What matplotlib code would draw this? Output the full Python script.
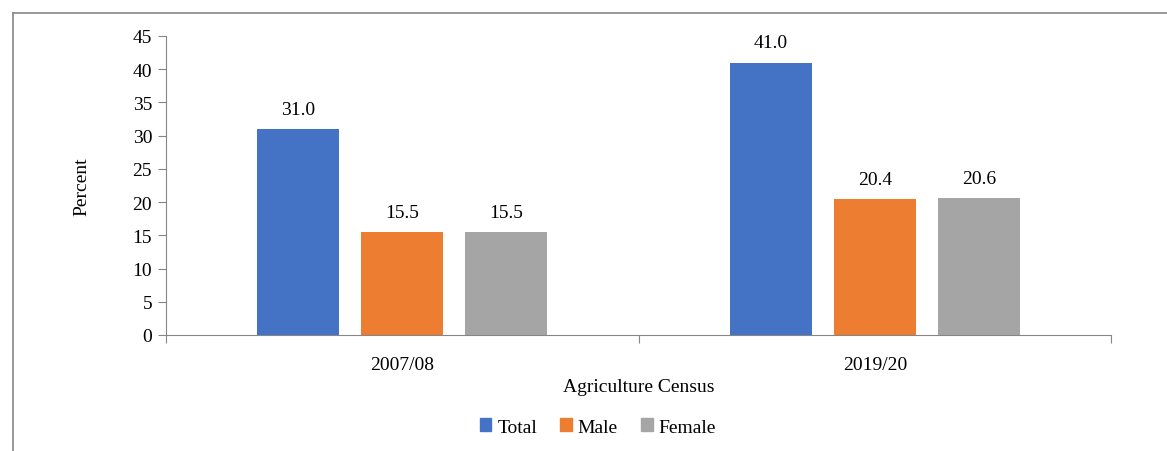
import numpy as np
import matplotlib
matplotlib.use("Agg")
import matplotlib.pyplot as plt
from matplotlib.lines import Line2D
from matplotlib.patches import Patch

plt.rcParams['font.family'] = ['Liberation Serif', 'DejaVu Serif']

censuses = ["2007/08", "2019/20"]
series_names = ["Total", "Male", "Female"]
total = [31.0, 41.0]
male = [15.5, 20.4]
female = [15.5, 20.6]
colors = ["#4472C4", "#ED7D31", "#A5A5A5"]

fig = plt.figure(figsize=(11.67, 4.52), dpi=100)
ax = fig.add_axes([166 / 1167, 1 - 336 / 452, (1111 - 166) / 1167, (336 - 37) / 452])

x = np.arange(len(censuses))
width = 0.174
offsets = [-0.22, 0.0, 0.22]
fs = 14

for vals, off, c in zip([total, male, female], offsets, colors):
    bars = ax.bar(x + off, vals, width, color=c)
    for b, v in zip(bars, vals):
        ax.annotate(f"{v:.1f}", (b.get_x() + b.get_width() / 2, v),
                    xytext=(0, 8), textcoords="offset points",
                    ha="center", va="bottom", fontsize=fs)

ax.set_xlim(-0.5, 1.5)
ax.set_ylim(0, 45)
ax.set_yticks(np.arange(0, 46, 5))
ax.set_xticks([-0.5, 0.5, 1.5])
ax.set_xticklabels([])
ax.set_xticks(x, minor=True)
ax.set_xticklabels(censuses, minor=True, fontsize=fs)
ax.tick_params(axis="x", which="minor", length=0, pad=15)
ax.tick_params(axis="x", which="major", length=6, color="#868686", direction="out")
ax.tick_params(axis="y", length=6, color="#868686", labelsize=fs, pad=4)

for s in ["top", "right"]:
    ax.spines[s].set_visible(False)
for s in ["left", "bottom"]:
    ax.spines[s].set_color("#868686")

ax.set_ylabel("Percent", fontsize=fs, labelpad=30)
ax.set_xlabel("Agriculture Census", fontsize=fs, labelpad=4)

handles = [Patch(color=c, label=n) for c, n in zip(colors, series_names)]
fig.legend(handles=handles, loc="center", bbox_to_anchor=(598 / 1167, 1 - 428 / 452),
           ncol=3, frameon=False, fontsize=fs, handlelength=0.6, handleheight=0.6,
           handletextpad=0.3, columnspacing=1.2)

# outer frame (left and top edges only visible)
fig.add_artist(Line2D([13 / 1167, 13 / 1167], [0, 1 - 14 / 452], color="#868686", lw=1.2))
fig.add_artist(Line2D([13 / 1167, 1], [1 - 14 / 452, 1 - 14 / 452], color="#868686", lw=1.2))

fig.savefig("out.png", dpi=100)
